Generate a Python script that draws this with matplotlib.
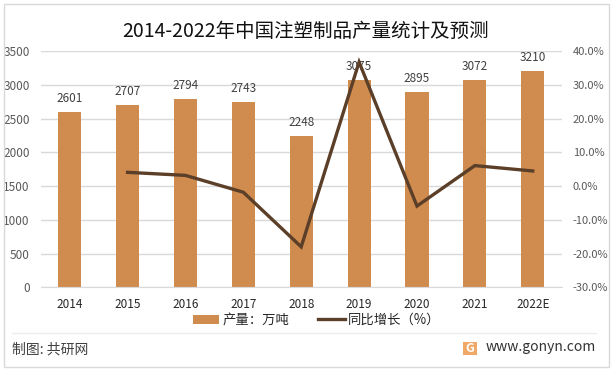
# -*- coding: utf-8 -*-
import matplotlib
matplotlib.use('Agg')
import matplotlib.pyplot as plt
from matplotlib.patches import Rectangle

plt.rcParams['font.family'] = ['Noto Sans CJK SC', 'DejaVu Sans']

years = ['2014', '2015', '2016', '2017', '2018', '2019', '2020', '2021', '2022E']
output = [2601, 2707, 2794, 2743, 2248, 3075, 2895, 3072, 3210]
growth_years = ['2015', '2016', '2017', '2018', '2019', '2020', '2021', '2022E']
growth = [4.1, 3.2, -1.8, -18.0, 36.8, -5.9, 6.1, 4.5]
left_ticks = [0, 500, 1000, 1500, 2000, 2500, 3000, 3500]
right_ticks = [-30, -20, -10, 0, 10, 20, 30, 40]

BAR = '#d08c4f'
LINE = '#5b3f28'
W, H = 613, 371

fig = plt.figure(figsize=(W / 100, H / 100), dpi=100)
ax = fig.add_axes([40.7 / W, 1 - 287.3 / H, 521 / W, 236 / H])

bars = ax.bar(years, output, width=0.4, color=BAR, label='产量：万吨', zorder=2)
ax.bar_label(bars, padding=5, fontsize=8.5, color='#404040')
ax.set_xlim(-0.5, 8.5)
ax.set_ylim(0, 3500)
ax.set_yticks(left_ticks)
ax.grid(axis='y', color='#d9d9d9', lw=1, zorder=0)
ax.set_axisbelow(True)
ax.tick_params(axis='both', length=0)
ax.tick_params(axis='y', labelsize=8.5, labelcolor='#595959', pad=8)
ax.tick_params(axis='x', labelsize=8.5, labelcolor='#262626', pad=8)
for s in ['top', 'left', 'right']:
    ax.spines[s].set_visible(False)
ax.spines['bottom'].set_color('#d9d9d9')

ax2 = ax.twinx()
x_pos = [years.index(y) for y in growth_years]
line, = ax2.plot(x_pos, growth, color=LINE, lw=2.4, label='同比增长（%）', solid_joinstyle='miter')
ax2.set_ylim(-30, 40)
ax2.set_yticks(right_ticks)
ax2.set_yticklabels(['%.1f%%' % v for v in right_ticks])
ax2.tick_params(axis='y', length=0, labelsize=8, labelcolor='#595959', pad=8)
for s in ax2.spines.values():
    s.set_visible(False)

fig.legend(handles=[bars, line], ncol=2, loc='center', bbox_to_anchor=(316.5 / W, 1 - 320 / H),
           frameon=False, fontsize=9.6, handlelength=2.0, handletextpad=0.2, columnspacing=2.2,
           labelcolor='#262626')

fig.text(306 / W, 1 - 31 / H, '2014-2022年中国注塑制品产量统计及预测', fontsize=14, color='#111111',
         ha='center', va='center')
fig.text(12 / W, 1 - 349 / H, '制图: 共研网', fontsize=10, color='#404040', va='center')
fig.text(596 / W, 1 - 347 / H, 'www.gonyn.com', fontsize=10, color='#333333', va='center', ha='right')

# outer frame, footer rule and logo
fig.add_artist(Rectangle((3.5 / W, 1 - 366.5 / H), 605.5 / W, 363 / H, transform=fig.transFigure,
                         fill=False, ec='#d9d9d9', lw=1))
fig.add_artist(plt.Line2D([12 / W, 596 / W], [1 - 332.5 / H] * 2, color='#ececec', lw=1))
fig.add_artist(Rectangle((463 / W, 1 - 355 / H), 14 / W, 13 / H, transform=fig.transFigure,
                         fc='#f0a868', ec='none'))
fig.text(470 / W, 1 - 348.5 / H, 'G', fontsize=9, color='white', fontweight='bold', ha='center', va='center')

fig.savefig('out.png', dpi=100)
